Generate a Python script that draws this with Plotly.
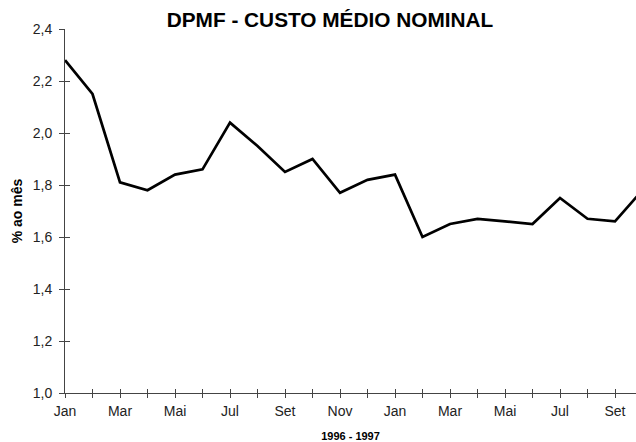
import plotly.graph_objects as go

# Monthly labels, Jan/1996 .. Out/1997
months = ["Jan", "Fev", "Mar", "Abr", "Mai", "Jun", "Jul", "Ago", "Set", "Out", "Nov", "Dez",
          "Jan", "Fev", "Mar", "Abr", "Mai", "Jun", "Jul", "Ago", "Set", "Out"]
# Custo médio nominal (% ao mês)
values = [2.28, 2.15, 1.81, 1.78, 1.84, 1.86, 2.04, 1.95, 1.85, 1.90, 1.77, 1.82,
          1.84, 1.60, 1.65, 1.67, 1.66, 1.65, 1.75, 1.67, 1.66, 1.78]

title_text = "DPMF - CUSTO MÉDIO NOMINAL"
y_title = "% ao mês"
x_title = "1996 - 1997"
y_ticks = [1.0, 1.2, 1.4, 1.6, 1.8, 2.0, 2.2, 2.4]

idx = list(range(len(values)))
label_idx = idx[::2]
label_txt = [months[i] for i in label_idx]

FONT = "Liberation Sans, Arial, sans-serif"
AX = "#444444"

fig = go.Figure()
fig.add_trace(go.Scatter(x=idx, y=values, mode="lines",
                         line=dict(color="black", width=2.7),
                         hoverinfo="skip", showlegend=False))
# invisible companion trace so the overlay axes (inside ticks) are drawn
fig.add_trace(go.Scatter(x=idx, y=values, mode="lines", xaxis="x2", yaxis="y2",
                         line=dict(color="rgba(0,0,0,0)", width=0),
                         hoverinfo="skip", showlegend=False))

xr = [0, 571 / 27.5]
yr = [1.0, 2.4]

fig.update_layout(
    width=636, height=442,
    margin=dict(l=65, r=0, t=29, b=49),
    paper_bgcolor="white", plot_bgcolor="white",
    separators=",.",
    font=dict(family=FONT, size=14, color="#222222"),
    title=dict(text=title_text, x=330 / 636, xref="container", xanchor="center",
               y=1 - 20 / 442, yref="container", yanchor="middle",
               font=dict(family=FONT, size=20.8, color="black", weight="bold")),
    xaxis=dict(range=xr, showgrid=False, zeroline=False,
               showline=True, linecolor=AX, linewidth=1,
               tickmode="array", tickvals=label_idx, ticktext=label_txt,
               ticks="outside", ticklen=4, tickcolor=AX, tickwidth=1,
               ticklabelstandoff=1,
               minor=dict(ticks="outside", ticklen=4, tickcolor=AX, dtick=1, tick0=0, showgrid=False),
               tickfont=dict(size=14, color="#222222"),
               title=dict(text=x_title, standoff=15,
                          font=dict(size=11, color="black", weight="bold"))),
    yaxis=dict(range=yr, showgrid=False, zeroline=False,
               showline=True, linecolor=AX, linewidth=1,
               tickmode="array", tickvals=y_ticks, tickformat=".1f",
               ticks="outside", ticklen=5, tickcolor=AX, tickwidth=1,
               ticklabelstandoff=4,
               tickfont=dict(size=14, color="#222222"),
               title=dict(text=y_title, standoff=6,
                          font=dict(size=14, color="black", weight="bold"))),
    xaxis2=dict(range=xr, overlaying="x", anchor="y", showgrid=False, zeroline=False,
                showline=False, showticklabels=False,
                tickmode="linear", tick0=0, dtick=1,
                ticks="inside", ticklen=4, tickcolor=AX, tickwidth=1),
    yaxis2=dict(range=yr, overlaying="y", anchor="x", side="left", showgrid=False, zeroline=False,
                showline=False, showticklabels=False,
                tickmode="array", tickvals=y_ticks,
                ticks="inside", ticklen=5, tickcolor=AX, tickwidth=1),
)

fig.write_html("out.html")
